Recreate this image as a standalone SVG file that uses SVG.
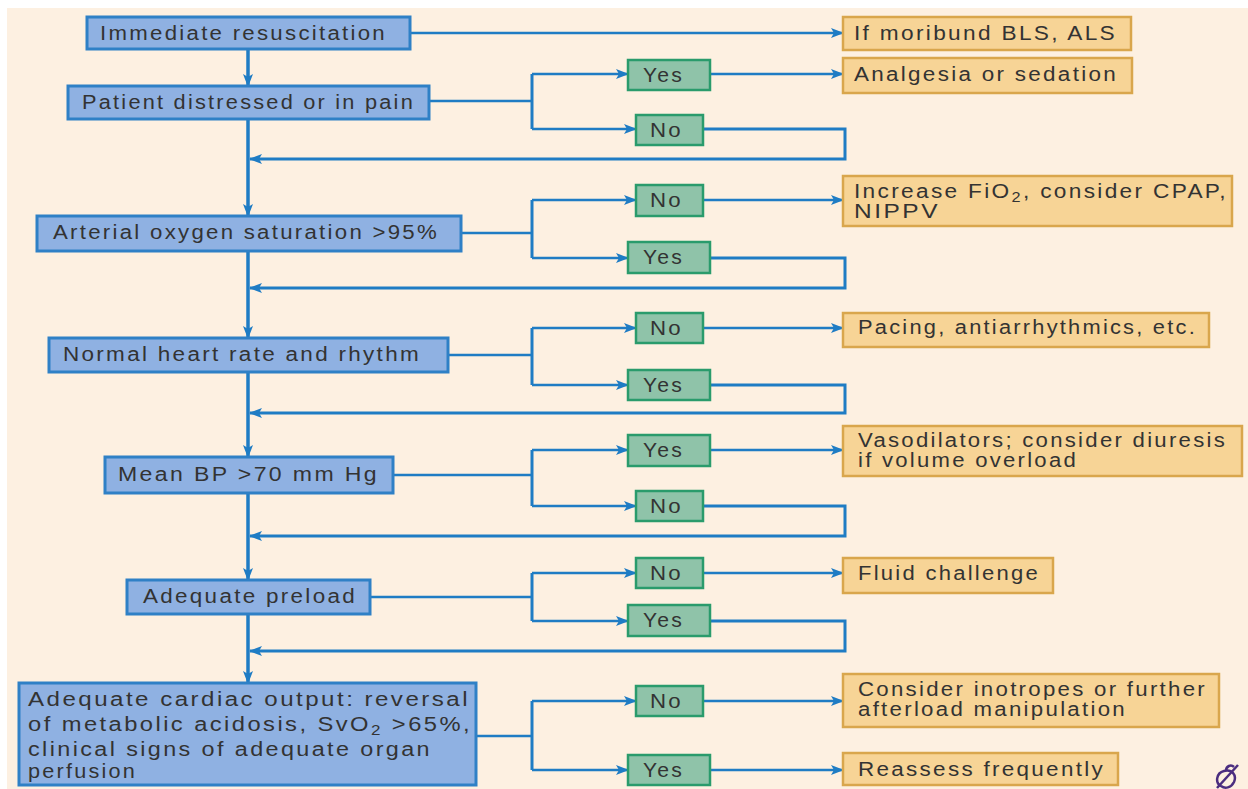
<svg xmlns="http://www.w3.org/2000/svg" width="1248" height="789" viewBox="0 0 1248 789">
<defs>
<style>
.bg{fill:#fdf0e1}
.blue{fill:#8fb1e2;stroke:#2f80c6;stroke-width:3}
.green{fill:#8fc3a9;stroke:#2a9b6c;stroke-width:2.5}
.orange{fill:#f7d496;stroke:#d9a64c;stroke-width:2.5}
.t{font-family:"Liberation Sans",Arial,sans-serif;font-size:19.5px;letter-spacing:2px;fill:#333333}
.sub{font-size:14px}
.trunk{fill:none;stroke:#1f7cc4;stroke-width:3.5}
.ln{fill:none;stroke:#1f7cc4;stroke-width:2.5}
.ret{fill:none;stroke:#1f7cc4;stroke-width:3}
</style>
<marker id="ah" markerUnits="userSpaceOnUse" markerWidth="14" markerHeight="10" refX="12" refY="5" orient="auto">
<path d="M0,0 L13,5 L0,10 L3,5 z" fill="#1f7cc4"/>
</marker>
</defs>
<rect x="0" y="0" width="1248" height="789" fill="#ffffff"/>
<rect class="bg" x="7" y="8" width="1241" height="781"/>

<g id="connectors">
<path class="trunk" d="M248,49 V86" marker-end="url(#ah)"/>
<path class="trunk" d="M248,119 V216" marker-end="url(#ah)"/>
<path class="trunk" d="M248,251 V338" marker-end="url(#ah)"/>
<path class="trunk" d="M248,372 V457" marker-end="url(#ah)"/>
<path class="trunk" d="M248,493 V580" marker-end="url(#ah)"/>
<path class="trunk" d="M248,614 V683" marker-end="url(#ah)"/>
<path class="ln" d="M410,33 H843" marker-end="url(#ah)"/>

<path class="ln" d="M429,101 H532"/>
<path class="ret" d="M532,74 V129"/>
<path class="ln" d="M532,74 H628" marker-end="url(#ah)"/>
<path class="ln" d="M532,129 H636" marker-end="url(#ah)"/>
<path class="ln" d="M710,74 H843" marker-end="url(#ah)"/>
<path class="ret" d="M703,129 H845 V159 H250" marker-end="url(#ah)"/>

<path class="ln" d="M461,233 H532"/>
<path class="ret" d="M532,200 V258"/>
<path class="ln" d="M532,200 H636" marker-end="url(#ah)"/>
<path class="ln" d="M532,258 H628" marker-end="url(#ah)"/>
<path class="ln" d="M703,200 H843" marker-end="url(#ah)"/>
<path class="ret" d="M710,258 H845 V288 H250" marker-end="url(#ah)"/>

<path class="ln" d="M448,355 H532"/>
<path class="ret" d="M532,328 V385"/>
<path class="ln" d="M532,328 H636" marker-end="url(#ah)"/>
<path class="ln" d="M532,385 H628" marker-end="url(#ah)"/>
<path class="ln" d="M703,328 H843" marker-end="url(#ah)"/>
<path class="ret" d="M710,385 H845 V413 H250" marker-end="url(#ah)"/>

<path class="ln" d="M393,475 H532"/>
<path class="ret" d="M532,450 V506"/>
<path class="ln" d="M532,450 H628" marker-end="url(#ah)"/>
<path class="ln" d="M532,506 H636" marker-end="url(#ah)"/>
<path class="ln" d="M710,450 H843" marker-end="url(#ah)"/>
<path class="ret" d="M703,506 H845 V536 H250" marker-end="url(#ah)"/>

<path class="ln" d="M370,597 H532"/>
<path class="ret" d="M532,573 V621"/>
<path class="ln" d="M532,573 H636" marker-end="url(#ah)"/>
<path class="ln" d="M532,621 H628" marker-end="url(#ah)"/>
<path class="ln" d="M703,573 H843" marker-end="url(#ah)"/>
<path class="ret" d="M710,621 H845 V651 H250" marker-end="url(#ah)"/>

<path class="ln" d="M476,736 H532"/>
<path class="ret" d="M532,701 V770"/>
<path class="ln" d="M532,701 H636" marker-end="url(#ah)"/>
<path class="ln" d="M532,770 H628" marker-end="url(#ah)"/>
<path class="ln" d="M703,701 H843" marker-end="url(#ah)"/>
<path class="ln" d="M710,770 H843" marker-end="url(#ah)"/>
</g>

<g id="n1"><rect class="blue" x="87" y="17" width="323" height="32"/><text class="t" x="100" y="40" textLength="287" lengthAdjust="spacingAndGlyphs">Immediate resuscitation</text></g>
<g id="n2"><rect class="blue" x="68" y="86" width="361" height="33"/><text class="t" x="82" y="109" textLength="333" lengthAdjust="spacingAndGlyphs">Patient distressed or in pain</text></g>
<g id="n3"><rect class="blue" x="37" y="216" width="424" height="35"/><text class="t" x="53" y="239" textLength="386" lengthAdjust="spacingAndGlyphs">Arterial oxygen saturation &gt;95%</text></g>
<g id="n4"><rect class="blue" x="49" y="338" width="399" height="34"/><text class="t" x="63" y="361" textLength="358" lengthAdjust="spacingAndGlyphs">Normal heart rate and rhythm</text></g>
<g id="n5"><rect class="blue" x="105" y="457" width="288" height="36"/><text class="t" x="118" y="481" textLength="261" lengthAdjust="spacingAndGlyphs">Mean BP &gt;70 mm Hg</text></g>
<g id="n6"><rect class="blue" x="127" y="580" width="243" height="34"/><text class="t" x="143" y="603" textLength="214" lengthAdjust="spacingAndGlyphs">Adequate preload</text></g>
<g id="n7"><rect class="blue" x="19" y="683" width="457" height="102"/>
<text class="t" x="28" y="706" textLength="442" lengthAdjust="spacingAndGlyphs">Adequate cardiac output: reversal</text>
<text class="t" x="28" y="731" textLength="444" lengthAdjust="spacingAndGlyphs">of metabolic acidosis, SvO<tspan class="sub" dy="4">2</tspan><tspan dy="-4"> &gt;65%,</tspan></text>
<text class="t" x="28" y="756" textLength="404" lengthAdjust="spacingAndGlyphs">clinical signs of adequate organ</text>
<text class="t" x="28" y="778" textLength="109" lengthAdjust="spacingAndGlyphs">perfusion</text></g>

<g id="y2"><rect class="green" x="628" y="60" width="82" height="30"/><text class="t" x="643" y="82" textLength="41" lengthAdjust="spacingAndGlyphs">Yes</text></g>
<g id="n2b"><rect class="green" x="636" y="115" width="67" height="30"/><text class="t" x="650" y="137" textLength="33" lengthAdjust="spacingAndGlyphs">No</text></g>
<g id="n3b"><rect class="green" x="636" y="185" width="67" height="31"/><text class="t" x="650" y="207" textLength="33" lengthAdjust="spacingAndGlyphs">No</text></g>
<g id="y3"><rect class="green" x="628" y="242" width="82" height="31"/><text class="t" x="643" y="264" textLength="41" lengthAdjust="spacingAndGlyphs">Yes</text></g>
<g id="n4b"><rect class="green" x="636" y="313" width="67" height="30"/><text class="t" x="650" y="335" textLength="33" lengthAdjust="spacingAndGlyphs">No</text></g>
<g id="y4"><rect class="green" x="628" y="370" width="82" height="30"/><text class="t" x="643" y="392" textLength="41" lengthAdjust="spacingAndGlyphs">Yes</text></g>
<g id="y5"><rect class="green" x="628" y="435" width="82" height="31"/><text class="t" x="643" y="457" textLength="41" lengthAdjust="spacingAndGlyphs">Yes</text></g>
<g id="n5b"><rect class="green" x="636" y="491" width="67" height="30"/><text class="t" x="650" y="513" textLength="33" lengthAdjust="spacingAndGlyphs">No</text></g>
<g id="n6b"><rect class="green" x="636" y="558" width="67" height="30"/><text class="t" x="650" y="580" textLength="33" lengthAdjust="spacingAndGlyphs">No</text></g>
<g id="y6"><rect class="green" x="628" y="605" width="82" height="31"/><text class="t" x="643" y="627" textLength="41" lengthAdjust="spacingAndGlyphs">Yes</text></g>
<g id="n7b"><rect class="green" x="636" y="686" width="67" height="30"/><text class="t" x="650" y="708" textLength="33" lengthAdjust="spacingAndGlyphs">No</text></g>
<g id="y7"><rect class="green" x="628" y="755" width="82" height="30"/><text class="t" x="643" y="777" textLength="41" lengthAdjust="spacingAndGlyphs">Yes</text></g>

<g id="o1"><rect class="orange" x="843" y="17" width="288" height="33"/><text class="t" x="854" y="40" textLength="263" lengthAdjust="spacingAndGlyphs">If moribund BLS, ALS</text></g>
<g id="o2"><rect class="orange" x="843" y="58" width="289" height="35"/><text class="t" x="854" y="81" textLength="264" lengthAdjust="spacingAndGlyphs">Analgesia or sedation</text></g>
<g id="o3"><rect class="orange" x="843" y="176" width="389" height="50"/>
<text class="t" x="854" y="198" textLength="374" lengthAdjust="spacingAndGlyphs">Increase FiO<tspan class="sub" dy="4">2</tspan><tspan dy="-4">, consider CPAP,</tspan></text>
<text class="t" x="854" y="218" textLength="86" lengthAdjust="spacingAndGlyphs">NIPPV</text></g>
<g id="o4"><rect class="orange" x="843" y="313" width="366" height="34"/><text class="t" x="858" y="334" textLength="339" lengthAdjust="spacingAndGlyphs">Pacing, antiarrhythmics, etc.</text></g>
<g id="o5"><rect class="orange" x="843" y="426" width="399" height="50"/>
<text class="t" x="858" y="447" textLength="369" lengthAdjust="spacingAndGlyphs">Vasodilators; consider diuresis</text>
<text class="t" x="858" y="467" textLength="220" lengthAdjust="spacingAndGlyphs">if volume overload</text></g>
<g id="o6"><rect class="orange" x="843" y="558" width="210" height="35"/><text class="t" x="858" y="580" textLength="182" lengthAdjust="spacingAndGlyphs">Fluid challenge</text></g>
<g id="o7"><rect class="orange" x="843" y="674" width="376" height="53"/>
<text class="t" x="858" y="696" textLength="349" lengthAdjust="spacingAndGlyphs">Consider inotropes or further</text>
<text class="t" x="858" y="716" textLength="269" lengthAdjust="spacingAndGlyphs">afterload manipulation</text></g>
<g id="o8"><rect class="orange" x="843" y="753" width="275" height="32"/><text class="t" x="858" y="776" textLength="247" lengthAdjust="spacingAndGlyphs">Reassess frequently</text></g>

<g id="logo" fill="none" stroke="#4b2d7f" stroke-width="2.5">
<path d="M1221,786 c-6,-3 -5,-13 3,-15 c8,-2 13,4 10,11 c-3,6 -9,7 -13,4"/>
<path d="M1217,788 L1238,765"/>
<path d="M1226,771 c0,-5 5,-7 8,-4"/>
</g>
</svg>
